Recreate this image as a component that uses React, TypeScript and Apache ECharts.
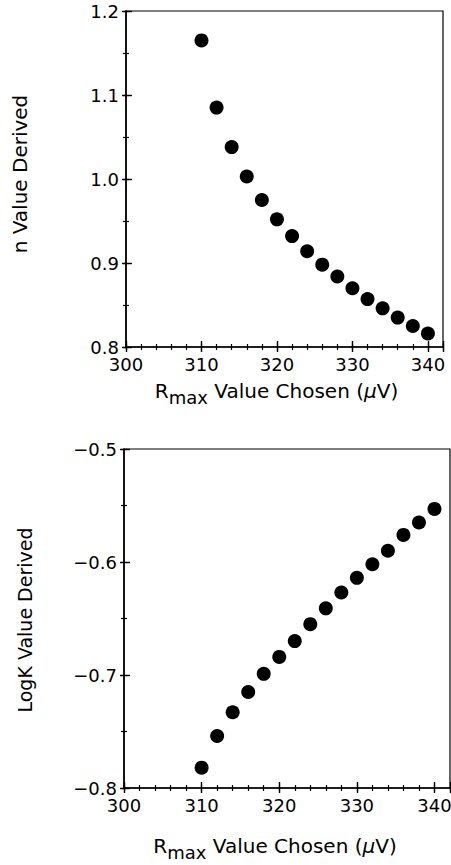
import React, { useEffect, useRef } from 'react';
import * as echarts from 'echarts';

// R_max values chosen (µV)
const rmaxValues = [310, 312, 314, 316, 318, 320, 322, 324, 326, 328, 330, 332, 334, 336, 338, 340];
// n values derived (top panel)
const nValues = [1.165, 1.085, 1.038, 1.003, 0.975, 0.952, 0.932, 0.914, 0.898, 0.884, 0.870, 0.857, 0.846, 0.835, 0.825, 0.816];
// LogK values derived (bottom panel)
const logKValues = [-0.782, -0.754, -0.733, -0.715, -0.699, -0.684, -0.670, -0.655, -0.641, -0.627, -0.614, -0.602, -0.590, -0.576, -0.565, -0.553];

const xMin = 300;
const xMax = 342;
const xMajor = 10;
const xMinor = 2;
const nMin = 0.8;
const nMax = 1.2;
const logKMin = -0.8;
const logKMax = -0.5;
const yMajor = 0.1;
const yMinor = 0.05;

const FONT = 'DejaVu Sans';
const BLACK = '#000';

const xNameRich = '{r|R}{sub|max}{t| Value Chosen (}{mu|\u03bc}{t|V)}';

function xAxes(grid: number, nameGap: number, padRight: number) {
  const base = {
    type: 'value',
    gridIndex: grid,
    min: xMin,
    max: xMax,
    position: 'bottom',
    splitLine: { show: false },
    axisLine: { show: false },
    axisLabel: { show: false },
  };
  return [
    {
      ...base,
      interval: xMajor,
      axisLine: { show: true, lineStyle: { color: BLACK, width: 1.6 } },
      axisTick: { show: true, inside: false, length: 5, lineStyle: { color: BLACK, width: 1.4 } },
      axisLabel: {
        show: true,
        margin: 8,
        color: BLACK,
        fontFamily: FONT,
        fontSize: 18,
        formatter: (v: number) => (Math.round(v) % 10 === 0 ? String(Math.round(v)) : ''),
      },
      name: xNameRich,
      nameLocation: 'middle',
      nameGap,
      nameTextStyle: {
        color: BLACK,
        fontFamily: FONT,
        padding: [0, padRight, 0, 0],
        rich: {
          r: { fontSize: 20, fontFamily: FONT, color: BLACK, verticalAlign: 'bottom', padding: [0, 0, 5, 0] },
          sub: { fontSize: 18, fontFamily: FONT, color: BLACK, verticalAlign: 'bottom' },
          t: { fontSize: 20, fontFamily: FONT, color: BLACK, verticalAlign: 'bottom', padding: [0, 0, 5, 0] },
          mu: { fontSize: 20, fontFamily: FONT, fontStyle: 'italic', color: BLACK, verticalAlign: 'bottom', padding: [0, 0, 5, 0] },
        },
      },
    },
    {
      ...base,
      interval: xMajor,
      axisTick: { show: true, inside: true, length: 6, lineStyle: { color: BLACK, width: 1.4 } },
    },
    {
      ...base,
      interval: xMinor,
      axisTick: { show: true, inside: false, length: 3, lineStyle: { color: BLACK, width: 1.2 } },
    },
    {
      ...base,
      interval: xMinor,
      axisTick: { show: true, inside: true, length: 3, lineStyle: { color: BLACK, width: 1.2 } },
    },
  ];
}

function yAxes(grid: number, min: number, max: number) {
  const base = {
    type: 'value',
    gridIndex: grid,
    min,
    max,
    position: 'left',
    splitLine: { show: false },
    axisLine: { show: false },
    axisLabel: { show: false },
  };
  return [
    {
      ...base,
      interval: yMajor,
      axisLine: { show: true, lineStyle: { color: BLACK, width: 1.6 } },
      axisTick: { show: true, inside: false, length: 4, lineStyle: { color: BLACK, width: 1.4 } },
      axisLabel: {
        show: true,
        margin: 7,
        color: BLACK,
        fontFamily: FONT,
        fontSize: 18,
        formatter: (v: number) => v.toFixed(1).replace('-', '\u2212'),
      },
    },
    {
      ...base,
      interval: yMajor,
      axisTick: { show: true, inside: true, length: 6, lineStyle: { color: BLACK, width: 1.4 } },
    },
    {
      ...base,
      interval: yMinor,
      axisTick: { show: true, inside: false, length: 3, lineStyle: { color: BLACK, width: 1.2 } },
    },
    {
      ...base,
      interval: yMinor,
      axisTick: { show: true, inside: true, length: 3, lineStyle: { color: BLACK, width: 1.2 } },
    },
  ];
}

export default function App() {
  const ref = useRef<HTMLDivElement>(null);

  useEffect(() => {
    if (!ref.current) return;
    const chart = echarts.init(ref.current, undefined, { renderer: 'svg' });
    const option: any = {
      animation: false,
      backgroundColor: '#fff',
      grid: [
        {
          left: 126, top: 11, width: 317, height: 336,
          show: true, borderColor: BLACK, borderWidth: 1.2, backgroundColor: 'transparent',
          containLabel: false, outerBoundsMode: 'none',
        },
        {
          left: 124, top: 449, width: 326, height: 339,
          show: true, borderColor: BLACK, borderWidth: 1.2, backgroundColor: 'transparent',
          containLabel: false, outerBoundsMode: 'none',
        },
      ],
      xAxis: [...xAxes(0, 34, 16), ...xAxes(1, 48, 24)],
      yAxis: [...yAxes(0, nMin, nMax), ...yAxes(1, logKMin, logKMax)],
      graphic: [
        {
          type: 'text',
          x: 20,
          y: 174,
          rotation: Math.PI / 2,
          style: {
            text: 'n Value Derived',
            fontFamily: FONT,
            fontSize: 20,
            fill: BLACK,
            align: 'center',
            verticalAlign: 'middle',
          },
        },
        {
          type: 'text',
          x: 25,
          y: 620,
          rotation: Math.PI / 2,
          style: {
            text: 'LogK Value Derived',
            fontFamily: FONT,
            fontSize: 19,
            fill: BLACK,
            align: 'center',
            verticalAlign: 'middle',
          },
        },
      ],
      series: [
        {
          type: 'scatter',
          xAxisIndex: 0,
          yAxisIndex: 0,
          symbol: 'circle',
          symbolSize: 14,
          itemStyle: { color: BLACK, opacity: 1 },
          data: rmaxValues.map((x, i) => [x, nValues[i]]),
        },
        {
          type: 'scatter',
          xAxisIndex: 4,
          yAxisIndex: 4,
          symbol: 'circle',
          symbolSize: 14,
          itemStyle: { color: BLACK, opacity: 1 },
          data: rmaxValues.map((x, i) => [x, logKValues[i]]),
        },
      ],
    };
    chart.setOption(option);
    return () => chart.dispose();
  }, []);

  return (
    <div
      ref={ref}
      style={{ position: 'fixed', left: 0, top: 0, width: 451, height: 865, background: '#fff' }}
    />
  );
}
